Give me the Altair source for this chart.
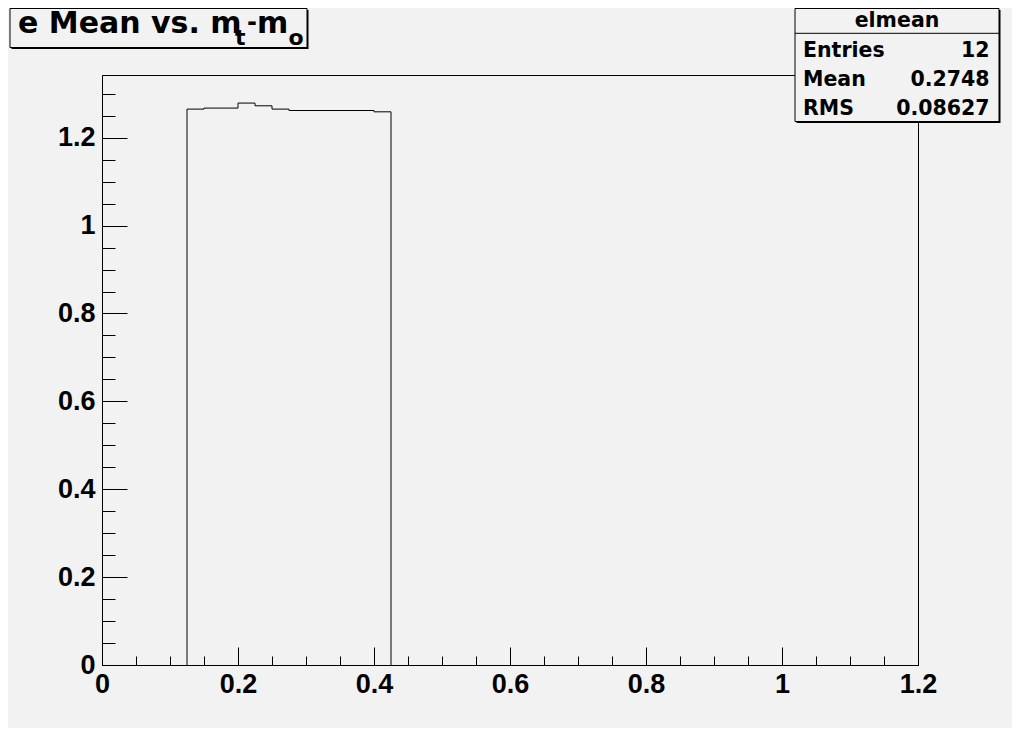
import altair as alt
import pandas as pd

# ---------------- data ----------------
bin_edges = [0.125, 0.15, 0.175, 0.2, 0.225, 0.25, 0.275, 0.3, 0.325, 0.35, 0.375, 0.4, 0.425]
bin_values = [1.2652, 1.2675, 1.2675, 1.2789, 1.2727, 1.2652, 1.2620, 1.2620, 1.2620, 1.2620, 1.2620, 1.2590]

x_major = [0, 0.2, 0.4, 0.6, 0.8, 1.0, 1.2]
x_minor = [0, 0.05, 0.1, 0.15, 0.2, 0.25, 0.3, 0.35, 0.4, 0.45, 0.5, 0.55, 0.6,
           0.65, 0.7, 0.75, 0.8, 0.85, 0.9, 0.95, 1.0, 1.05, 1.1, 1.15, 1.2]
y_major = [0, 0.2, 0.4, 0.6, 0.8, 1.0, 1.2]
y_minor = [0, 0.05, 0.1, 0.15, 0.2, 0.25, 0.3, 0.35, 0.4, 0.45, 0.5, 0.55, 0.6,
           0.65, 0.7, 0.75, 0.8, 0.85, 0.9, 0.95, 1.0, 1.05, 1.1, 1.15, 1.2, 1.25, 1.3]
x_domain = [0, 1.2]
y_domain = [0, 1.3428]

title_main = "e Mean vs. m"
title_sub1 = "t"
title_dash = "-"
title_m2 = "m"
title_sub2 = "o"

stats_name = "elmean"
stats_labels = ["Entries", "Mean", "RMS"]
stats_values = ["12", "0.2748", "0.08627"]

# ---------------- layout ----------------
W, H = 816, 590
BG = "#f2f2f2"
BOX_FONT = "DejaVu Sans"
AX_FONT = "Liberation Sans"

# histogram outline points (step-after)
pts_x = [bin_edges[0]] + bin_edges[:-1] + [bin_edges[-1], bin_edges[-1]]
pts_y = [0] + bin_values + [bin_values[-1], 0]
hist = pd.DataFrame({"x": pts_x, "y": pts_y, "i": list(range(len(pts_x)))})

one = pd.DataFrame({"k": [0]})

xs = alt.Scale(domain=x_domain, nice=False, zero=False)
ys = alt.Scale(domain=y_domain, nice=False, zero=False)

lab_common = dict(labelFont=AX_FONT, labelFontWeight="bold", labelFontSize=27,
                  labelColor="black", labelFlush=False, labelOverlap=False,
                  labelBound=False, grid=False, title=None)

x_lab_axis = alt.Axis(values=x_major, format="~g", orient="bottom", ticks=False, tickSize=0,
                      domain=True, domainColor="black", domainWidth=1, labelPadding=6,
                      **lab_common)
y_lab_axis = alt.Axis(values=y_major, format="~g", orient="left", ticks=False, tickSize=0,
                      domain=True, domainColor="black", domainWidth=1, labelPadding=7,
                      labelBaseline="middle", **lab_common)


def tick_axis(vals, orient, offset, size):
    return alt.Axis(values=vals, orient=orient, offset=offset, labels=False, domain=False,
                    ticks=True, tickSize=size, tickColor="black", tickWidth=1,
                    grid=False, title=None)


base = alt.Chart(hist)

hist_line = base.mark_line(interpolate="step-after", color="black", strokeWidth=1).encode(
    x=alt.X("x:Q", scale=xs, axis=x_lab_axis),
    y=alt.Y("y:Q", scale=ys, axis=y_lab_axis),
    order=alt.Order("i:Q"),
)
major_ticks = base.mark_line(strokeOpacity=0).encode(
    x=alt.X("x:Q", scale=xs, axis=tick_axis(x_major, "top", -H, 18)),
    y=alt.Y("y:Q", scale=ys, axis=tick_axis(y_major, "right", -W, 25)),
    order=alt.Order("i:Q"),
)
minor_ticks = base.mark_line(strokeOpacity=0).encode(
    x=alt.X("x:Q", scale=xs, axis=tick_axis(x_minor, "top", -H, 9)),
    y=alt.Y("y:Q", scale=ys, axis=tick_axis(y_minor, "right", -W, 13)),
    order=alt.Order("i:Q"),
)


def box(x1, x2, y1, y2):
    shadow = alt.Chart(one).mark_rect(fill="black").encode(
        x=alt.value(x1 + 1.5), x2=alt.value(x2 + 1.5),
        y=alt.value(y1 + 1.5), y2=alt.value(y2 + 1.5))
    face = alt.Chart(one).mark_rect(fill=BG, stroke="black", strokeWidth=1).encode(
        x=alt.value(x1), x2=alt.value(x2), y=alt.value(y1), y2=alt.value(y2))
    return [shadow, face]


def txt(s, x, y, size, align="left"):
    return alt.Chart(one).mark_text(font=BOX_FONT, fontWeight="bold", fontSize=size,
                                    color="black", align=align, baseline="alphabetic").encode(
        x=alt.value(x), y=alt.value(y), text=alt.value(s))


# title box
title_layers = box(-92, 205, -66.5, -27.5) + [
    txt(title_main, -84, -42, 30),
    txt(title_sub1, 133, -30, 22),
    txt(title_dash, 145, -45, 24),
    txt(title_m2, 155, -42, 30),
    txt(title_sub2, 186.5, -30, 22),
]

# stats box
sep = alt.Chart(one).mark_rule(color="black", strokeWidth=1).encode(
    x=alt.value(693), x2=alt.value(897), y=alt.value(-41.7))
row_y = [-18.3, 11, 40]
stats_layers = box(693, 897, -66.5, 46.5) + [sep, txt(stats_name, 795, -48.3, 20.5, "center")]
for lab, val, yy in zip(stats_labels, stats_values, row_y):
    stats_layers.append(txt(lab, 701, yy, 20.5))
    stats_layers.append(txt(val, 887.6, yy, 20.5, "right"))

chart = alt.layer(hist_line, major_ticks, minor_ticks, *title_layers, *stats_layers).resolve_axis(
    x="independent", y="independent"
).resolve_scale(x="shared", y="shared").properties(
    width=W, height=H,
    padding={"left": 94, "top": 67, "right": 94, "bottom": 63},
    autosize=alt.AutoSizeParams(type="none"),
    background=BG,
).configure_view(stroke="black", strokeWidth=1, fill=BG)

chart.save("out.html", embed_options={"renderer": "svg", "actions": False})
